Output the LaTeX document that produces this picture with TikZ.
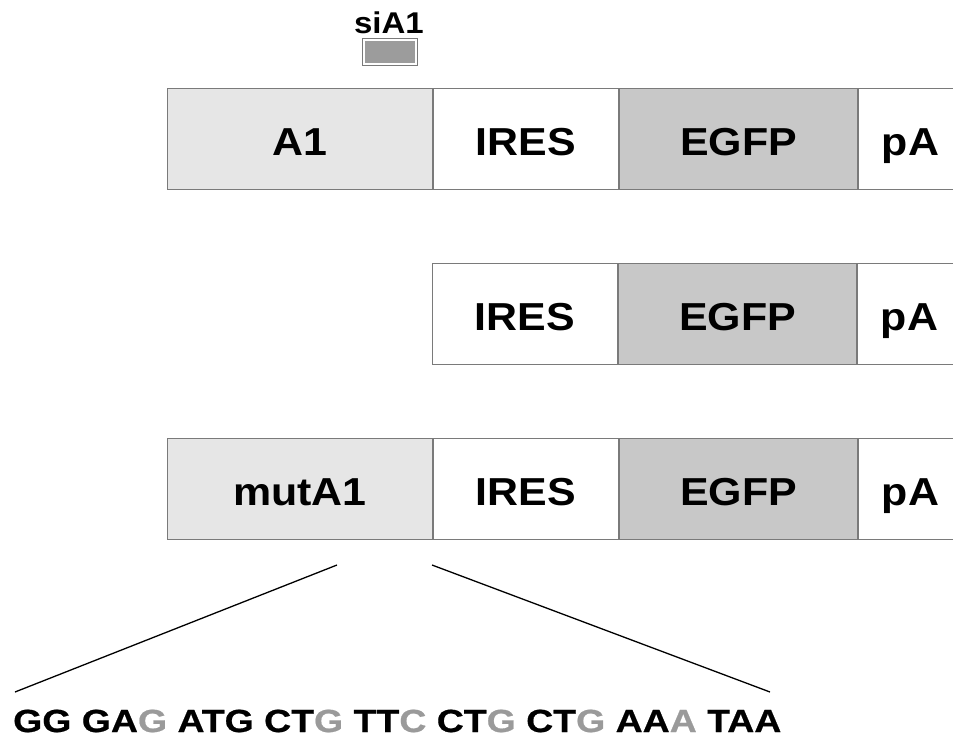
\documentclass[tikz,border=0pt]{standalone}
\usepackage{fontspec}
\setmainfont{Liberation Sans}
\newfontfamily\lblfont[FakeStretch=1.1]{Liberation Sans}
\newfontfamily\seqfont[FakeStretch=1.17,FakeBold=0.6]{Liberation Sans}
\definecolor{aone}{HTML}{E6E6E6}
\definecolor{egfp}{HTML}{C8C8C8}
\definecolor{mut}{HTML}{9A9A9A}
\definecolor{sifill}{HTML}{9C9C9C}
\definecolor{boxline}{HTML}{7A7A7A}
\newcommand{\mutb}[1]{\textcolor{mut}{#1}}
\begin{document}
\begin{tikzpicture}[x=1pt,y=-1pt,
  seg/.style={draw=boxline, line width=1pt, minimum height=101pt, inner sep=0pt,
    text height=33pt, text depth=0pt, anchor=north west,
    font=\lblfont\bfseries\fontsize{39}{39}\selectfont},
  light/.style={seg, fill=aone},
  plain/.style={seg, fill=white},
  green/.style={seg, fill=egfp},
  zoomline/.style={draw=black, line width=1.3pt}]
\useasboundingbox (0,0) rectangle (953,737);
% row 1
\node[light, minimum width=265pt] (a1) at (167,88) {A1};
\node[plain, minimum width=185pt] (ires1) at (a1.north east) {IRES};
\node[green, minimum width=238pt] (egfp1) at (ires1.north east) {EGFP};
\node[plain, minimum width=104pt] (pa1) at (egfp1.north east) {pA};
% siA1
\node[draw=boxline, fill=white, line width=0.8pt, minimum width=55pt, minimum height=27pt,
  inner sep=0pt, anchor=north west] (si) at (362,38) {};
\node[fill=sifill, minimum width=50pt, minimum height=22pt, inner sep=0pt] (sifill) at (si.center) {};
\node[anchor=base, inner sep=0pt, font=\lblfont\bfseries\fontsize{30}{30}\selectfont] (silbl) at (389,33) {siA1};
% row 2
\node[plain, minimum width=185pt] (ires2) at (432,263) {IRES};
\node[green, minimum width=238pt] (egfp2) at (ires2.north east) {EGFP};
\node[plain, minimum width=104pt] (pa2) at (egfp2.north east) {pA};
% row 3
\node[light, minimum width=265pt] (mut) at (167,438) {mutA1};
\node[plain, minimum width=185pt] (ires3) at (mut.north east) {IRES};
\node[green, minimum width=238pt] (egfp3) at (ires3.north east) {EGFP};
\node[plain, minimum width=104pt] (pa3) at (egfp3.north east) {pA};
% sequence
\node[anchor=base west, inner sep=0pt, font=\seqfont\bfseries\fontsize{32}{32}\selectfont] (seq) at (13,732)
  {GG GA\mutb{G} ATG CT\mutb{G} TT\mutb{C} CT\mutb{G} CT\mutb{G} AA\mutb{A} TAA};
% zoom lines
\coordinate (l1) at (337,565);
\coordinate (l2) at (15,692);
\coordinate (r1) at (432,565);
\coordinate (r2) at (770,692);
\draw[zoomline] (l1) -- (l2);
\draw[zoomline] (r1) -- (r2);
\end{tikzpicture}
\end{document}
